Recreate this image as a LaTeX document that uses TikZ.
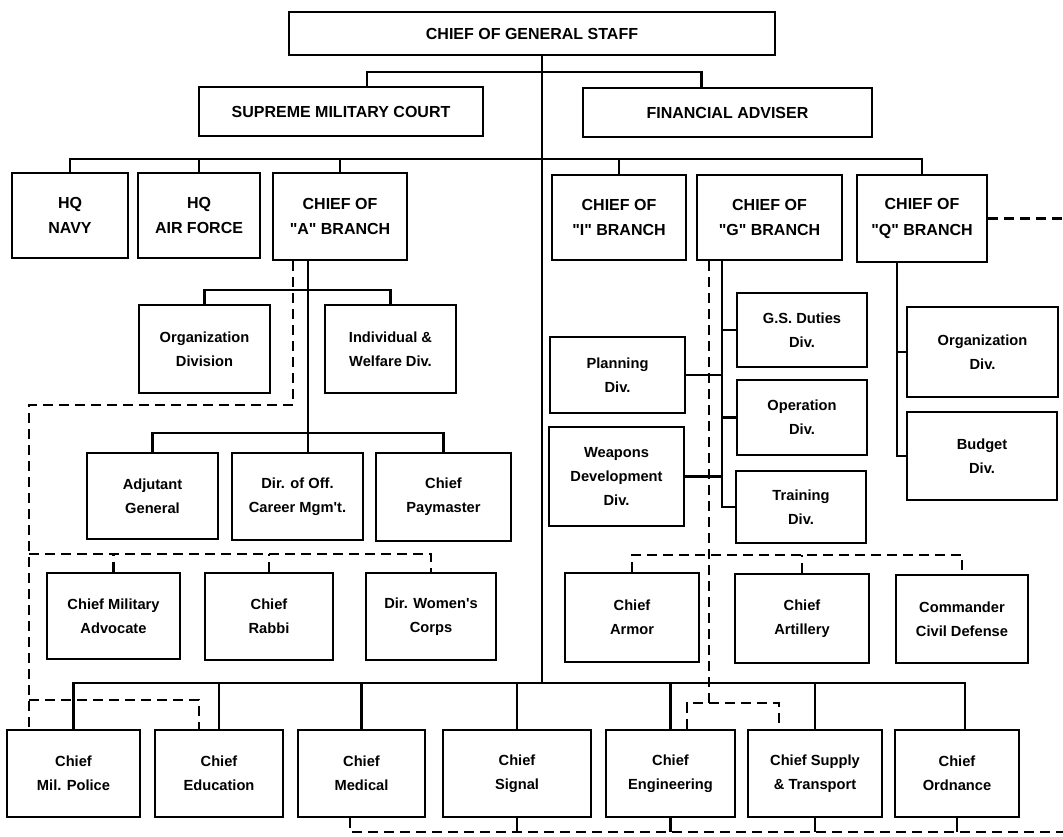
\documentclass[tikz,border=0pt]{standalone}
\usepackage{fontspec}
\setmainfont{Liberation Sans}[Ligatures=TeXOff]
\usepackage{tikz}

\begin{document}
\begin{tikzpicture}[x=0.75pt,y=-0.75pt,line width=1.7pt,
  box/.style={draw, line width=1.7pt, align=center, inner sep=0pt, font=\bfseries\fontsize{11}{18}\selectfont},
  bigbox/.style={box, font=\bfseries\fontsize{12}{19}\selectfont},
  sz/.style 2 args={minimum width=#1*0.75pt, minimum height=#2*0.75pt},
  dsh/.style={dash pattern=on 7.5pt off 4.5pt}]
\useasboundingbox (0,0) rectangle (1063,837);

%Shape: Rectangle [top rows]
\node[bigbox, sz={486}{43}] (cgs) at (532,33.5) {CHIEF OF GENERAL STAFF};
\node[bigbox, sz={284}{49}] (smc) at (341,111.5) {SUPREME MILITARY COURT};
\node[bigbox, sz={289}{49}] (fa) at (727.5,112.5) {FINANCIAL ADVISER};
\node[bigbox, sz={116}{85}] (navy) at (70,215.5) {HQ\\NAVY};
\node[bigbox, sz={122}{85}] (af) at (199,215.5) {HQ\\AIR FORCE};
\node[bigbox, sz={134}{87}] (cha) at (340,216.5) {CHIEF OF\\"A" BRANCH};
\node[bigbox, sz={134}{85}] (chi) at (619,217.5) {CHIEF OF\\"I" BRANCH};
\node[bigbox, sz={145}{85}] (chg) at (769.5,217.5) {CHIEF OF\\"G" BRANCH};
\node[bigbox, sz={130}{87}] (chq) at (922,218.5) {CHIEF OF\\"Q" BRANCH};

%Shape: Rectangle ["A" branch]
\node[box, sz={131}{88}] (orgdiv) at (204.5,349) {Organization\\Division};
\node[box, sz={131}{88}] (welf) at (390.5,349) {Individual \&\\Welfare Div.};
\node[box, sz={131}{86}] (adj) at (152.5,496) {Adjutant\\General};
\node[box, sz={131}{87}] (diroff) at (297.5,496.5) {Dir. of Off.\\Career Mgm't.};
\node[box, sz={135}{88}] (paym) at (443.5,497) {Chief\\Paymaster};
\node[box, sz={133}{86}] (advoc) at (113.5,616) {Chief Military\\Advocate};
\node[box, sz={128}{87}] (rabbi) at (269,616.5) {Chief\\Rabbi};
\node[box, sz={130}{87}] (women) at (431,616.5) {Dir. Women's\\Corps};

%Shape: Rectangle ["G" and "Q" branch]
\node[box, sz={130}{74}] (gsd) at (802,330) {G.S. Duties\\Div.};
\node[box, sz={130}{75}] (oper) at (802,417.5) {Operation\\Div.};
\node[box, sz={130}{72}] (train) at (801,507) {Training\\Div.};
\node[box, sz={135}{76}] (plan) at (617.5,375) {Planning\\Div.};
\node[box, sz={135}{99}] (weap) at (616.5,476.5) {Weapons\\Development\\Div.};
\node[box, sz={151}{90}] (qorg) at (982.5,352) {Organization\\Div.};
\node[box, sz={150}{88}] (budget) at (982,456) {Budget\\Div.};
\node[box, sz={134}{89}] (armor) at (632,617.5) {Chief\\Armor};
\node[box, sz={134}{89}] (artil) at (802,618.5) {Chief\\Artillery};
\node[box, sz={132}{88}] (civdef) at (962,619) {Commander\\Civil Defense};

%Shape: Rectangle [bottom row]
\node[box, sz={133}{87}] (mp) at (73.5,773.5) {Chief\\Mil. Police};
\node[box, sz={128}{87}] (edu) at (219,773.5) {Chief\\Education};
\node[box, sz={127}{87}] (med) at (361.5,773.5) {Chief\\Medical};
\node[box, sz={148}{87}] (sig) at (517,773.5) {Chief\\Signal};
\node[box, sz={129}{87}] (eng) at (670.5,773.5) {Chief\\Engineering};
\node[box, sz={134}{87}] (sup) at (815,773.5) {Chief Supply\\\& Transport};
\node[box, sz={124}{87}] (ord) at (957,773.5) {Chief\\Ordnance};

% bus points
\coordinate (trunk) at (542,683);
\coordinate (bar1) at (542,72);
\coordinate (bar2) at (542,159);
\coordinate (abar1) at (308,290);
\coordinate (abar) at (308,433);
\coordinate (dA) at (29,405);
\coordinate (dB) at (29,554);
\coordinate (dC) at (29,700);
\coordinate (gs) at ([shift={(-47.5,0)}]chg.south);
\coordinate (gd) at ([shift={(-60.5,0)}]chg.south);
\coordinate (dE) at (709,703);
\coordinate (dF) at (709,555);
\coordinate (qs) at ([shift={(-25,0)}]chq.south);
\coordinate (edge) at (1063,217);
\coordinate (dG) at (1063,832);

%Straight Lines
\draw (cgs.south -| trunk) -- (trunk);
\draw ([shift={(26,0)}]smc.north) |- (bar1) -| ([shift={(-26,0)}]fa.north);
\draw (navy.north) |- (bar2) -| (chq.north);
\foreach \n in {af,cha,chi}
  \draw (\n.north) -- (\n.north |- bar2);
\draw ([shift={(-32,0)}]cha.south) -- ([shift={(-32,0)}]cha.south |- diroff.north);
\draw (orgdiv.north) |- (abar1) -| (welf.north);
\draw (adj.north) |- (abar) -| (paym.north);
\draw (mp.north) |- (trunk) -| ([shift={(8,0)}]ord.north);
\foreach \n in {edu,med,sig,eng,sup}
  \draw (\n.north) -- (\n.north |- trunk);
\draw (gs) |- (train.west);
\draw (gsd.west) -- (gsd.west -| gs);
\draw (oper.west) -- (oper.west -| gs);
\draw (plan.east) -- (plan.east -| gs);
\draw (weap.east) -- (weap.east -| gs);
\draw (qs) |- (budget.west);
\draw (qorg.west) -- (qorg.west -| qs);
\foreach \n in {sig,eng,sup,ord}
  \draw (\n.south) -- (\n.south |- dG);

%Dashed Lines
\draw[dsh] ([shift={(-47,0)}]cha.south) |- (dA) -- (dA |- mp.north);
\draw[dsh] (dB) -| (women.north);
\draw[dsh] (advoc.north) -- (advoc.north |- dB);
\draw[dsh] (rabbi.north) -- (rabbi.north |- dB);
\draw[dsh] (dC) -| ([shift={(-20,0)}]edu.north);
\draw[dsh] (gd) -- (dE);
\draw[dsh] ([shift={(16.5,0)}]eng.north) |- (dE) -| ([shift={(-36,0)}]sup.north);
\draw[dsh] (armor.north) |- (dF) -| (civdef.north);
\draw[dsh] (artil.north) -- (artil.north |- dF);
\draw[dsh] (chq.east) -- (chq.east -| edge);
\draw[dsh] ([shift={(-11.5,0)}]med.south) |- (dG);

\end{tikzpicture}
\end{document}
